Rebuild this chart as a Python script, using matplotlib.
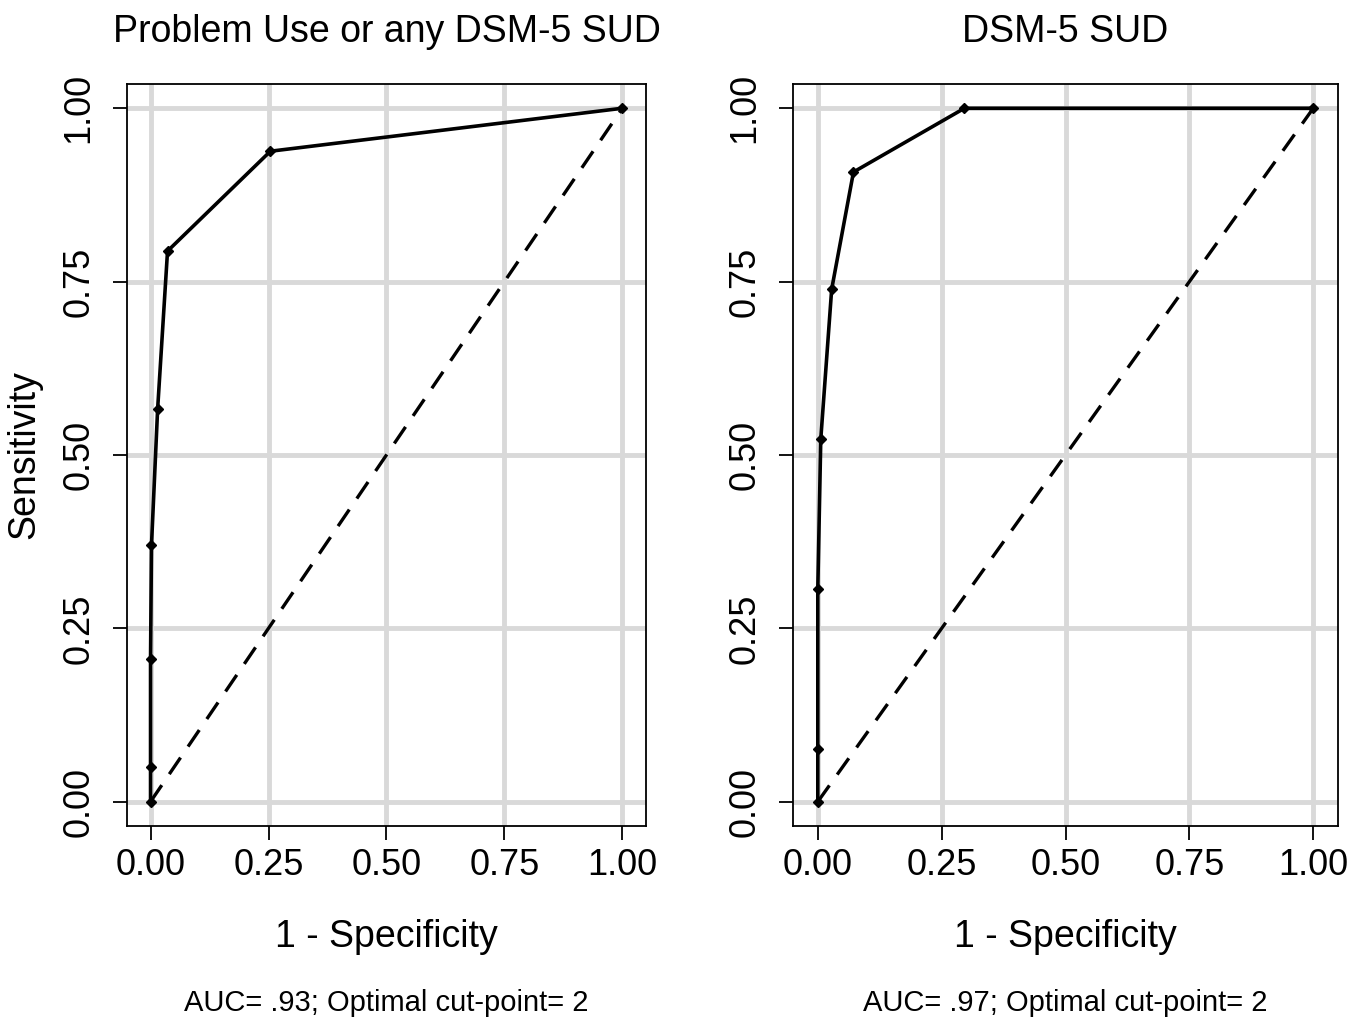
import matplotlib
matplotlib.use("Agg")
import matplotlib.pyplot as plt

plt.rcParams['font.family'] = ['Liberation Sans', 'DejaVu Sans']

# Dados das curvas ROC
fpr_esq = [0.0, 0.0, 0.0, 0.002, 0.015, 0.036, 0.254, 1.0]
sens_esq = [0.0, 0.050, 0.206, 0.370, 0.566, 0.794, 0.938, 1.0]

fpr_dir = [0.0, 0.0, 0.0, 0.006, 0.028, 0.072, 0.296, 1.0]
sens_dir = [0.0, 0.076, 0.307, 0.523, 0.739, 0.908, 1.0, 1.0]

titulos = ['Problem Use or any DSM-5 SUD', 'DSM-5 SUD']
notas = ['AUC= .93; Optimal cut-point= 2', 'AUC= .97; Optimal cut-point= 2']
ticks = [0.0, 0.25, 0.5, 0.75, 1.0]
tick_labels = ['0.00', '0.25', '0.50', '0.75', '1.00']

fig = plt.figure(figsize=(13.68, 10.24), dpi=100)
ax1 = fig.add_axes([0.0928, 0.1934, 0.3794, 0.7246])
ax2 = fig.add_axes([0.5797, 0.1934, 0.3984, 0.7246])

for ax, fpr, sens, titulo, nota in zip([ax1, ax2], [fpr_esq, fpr_dir], [sens_esq, sens_dir], titulos, notas):
    ax.plot([0, 1], [0, 1], color='black', linestyle=(0, (6, 4)), linewidth=2.4, zorder=2)
    ax.plot(fpr, sens, color='black', linewidth=2.6, marker='D', markersize=5.5, zorder=3)
    ax.set_xlim(-0.05, 1.05)
    ax.set_ylim(-0.035, 1.035)
    ax.set_xticks(ticks)
    ax.set_xticklabels(tick_labels)
    ax.set_yticks(ticks)
    ax.set_yticklabels(tick_labels, rotation=90, va='center')
    ax.tick_params(axis='both', labelsize=26, length=10, width=1.3, direction='out')
    ax.tick_params(axis='x', pad=6)
    ax.tick_params(axis='y', pad=12)
    ax.grid(True, color='#d9d9d9', linewidth=3.5, zorder=0)
    ax.set_axisbelow(True)
    for s in ax.spines.values():
        s.set_linewidth(1.3)
    ax.set_title(titulo, fontsize=27, pad=30)
    ax.set_xlabel('1 - Specificity', fontsize=27, labelpad=26)
    ax.text(0.5, -0.2385, nota, transform=ax.transAxes, ha='center', va='center', fontsize=21)

ax1.set_ylabel('Sensitivity', fontsize=27, labelpad=14)

plt.savefig('out.png', dpi=100)
